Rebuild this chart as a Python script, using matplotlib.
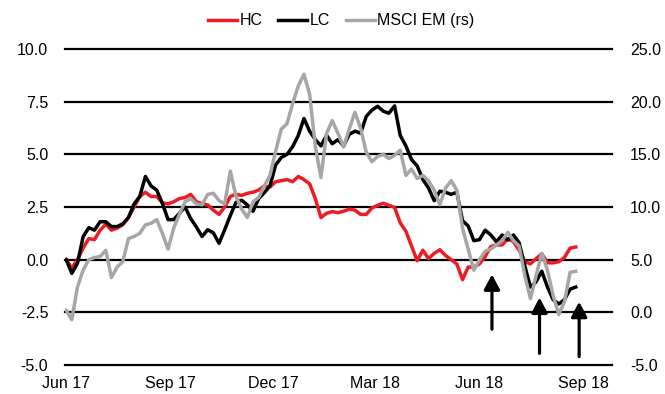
import matplotlib
matplotlib.use("Agg")
import matplotlib.pyplot as plt
import pandas as pd

plt.rcParams['font.family'] = ['Liberation Sans', 'DejaVu Sans']

# 5-day observation dates starting 1 Jun 2017
dates = pd.date_range('2017-06-01', periods=91, freq='5D')

# Hard-currency spread index change (lhs)
hc = [0.0, -0.4, 0.0, 0.55, 1.0, 0.95, 1.4, 1.68, 1.4, 1.5,
      1.65, 2.0, 2.5, 3.0, 3.2, 3.0, 3.0, 2.7, 2.65, 2.75,
      2.9, 2.95, 3.1, 2.75, 2.65, 2.6, 2.35, 2.15, 2.5, 3.0,
      3.1, 3.05, 3.15, 3.2, 3.3, 3.5, 3.45, 3.7, 3.75, 3.8,
      3.7, 3.95, 3.8, 3.6, 2.9, 2.0, 2.2, 2.28, 2.23, 2.3,
      2.4, 2.35, 2.15, 2.15, 2.45, 2.58, 2.68, 2.58, 2.48, 1.75,
      1.35, 0.65, -0.05, 0.45, 0.05, 0.3, 0.47, 0.2, 0.0, -0.2,
      -0.95, -0.35, -0.35, -0.2, 0.15, 0.62, 0.7, 0.7, 1.0, 0.85,
      0.45, -0.1, -0.2, 0.05, 0.28, -0.15, -0.15, -0.1, 0.1, 0.55,
      0.6]

# Local-currency index change (lhs)
lc = [0.0, -0.65, -0.17, 1.09, 1.52, 1.4, 1.8, 1.8, 1.57, 1.57,
      1.7, 2.0, 2.64, 3.0, 3.95, 3.5, 3.3, 2.67, 1.9, 1.9,
      2.2, 2.5, 1.95, 1.55, 1.1, 1.42, 1.27, 0.78, 1.42, 2.1,
      2.72, 2.82, 2.6, 2.3, 2.9, 3.18, 3.5, 4.5, 4.85, 5.0,
      5.36, 5.9, 6.7, 6.1, 5.7, 5.4, 5.9, 5.5, 5.7, 5.4,
      5.95, 6.1, 6.0, 6.8, 7.1, 7.28, 7.05, 6.95, 7.3, 5.9,
      5.4, 4.75, 4.45, 3.8, 3.4, 2.8, 3.25, 3.2, 3.1, 3.2,
      1.85, 1.6, 0.9, 0.95, 1.4, 1.17, 0.85, 1.17, 0.93, 1.17,
      0.8, -0.3, -1.3, -1.05, -0.55, -1.3, -1.9, -2.1, -1.9, -1.4,
      -1.3]

# MSCI EM change (rhs)
msci = [0.2, -0.7, 2.4, 4.0, 5.0, 5.2, 5.3, 5.9, 3.3, 4.3,
        4.8, 7.0, 7.2, 7.5, 8.3, 8.45, 8.8, 7.5, 6.0, 8.0,
        9.3, 10.5, 10.8, 10.3, 10.2, 11.2, 11.3, 10.6, 10.3, 13.4,
        11.0, 9.8, 9.0, 10.5, 10.9, 12.0, 13.0, 15.3, 17.4, 17.9,
        19.8, 21.5, 22.6, 20.7, 15.8, 12.8, 17.0, 18.2, 17.0, 15.7,
        17.4, 19.0, 17.5, 15.2, 14.3, 14.8, 15.0, 14.6, 14.9, 15.4,
        13.0, 13.6, 12.7, 13.0, 12.5, 11.6, 10.2, 11.8, 12.5, 11.6,
        8.0, 6.0, 4.0, 5.0, 5.8, 6.0, 6.4, 6.8, 7.6, 6.8,
        6.3, 3.5, 1.3, 3.5, 5.6, 4.0, 1.6, -0.2, 1.0, 3.8,
        3.9]

tick_dates = pd.to_datetime(['2017-06-01', '2017-09-01', '2017-12-01',
                             '2018-03-01', '2018-06-01', '2018-09-01'])
tick_labels = ['Jun 17', 'Sep 17', 'Dec 17', 'Mar 18', 'Jun 18', 'Sep 18']
left_ticks = [-5.0, -2.5, 0.0, 2.5, 5.0, 7.5, 10.0]
right_ticks = [-5.0, 0.0, 5.0, 10.0, 15.0, 20.0, 25.0]

# Arrows marking events: date, tail level, head level (lhs units)
arrow_dates = pd.to_datetime(['2018-06-12', '2018-07-24', '2018-08-28'])
arrow_tail = [-3.3, -4.45, -4.6]
arrow_head = [-0.7, -1.8, -2.0]

RED = '#ED1C24'
GREY = '#A6A6A6'
FS = 11.5
LW = 2.5

fig = plt.figure(figsize=(6.65, 3.94), dpi=100)
ax = fig.add_axes([65 / 665, 1 - 365 / 394, (612 - 65) / 665, (365 - 49) / 394])
ax2 = ax.twinx()

for v in left_ticks:
    ax.axhline(v, color='black', lw=1.6, zorder=1, clip_on=False)

l1, = ax.plot(dates, hc, color=RED, lw=LW, label='HC', zorder=3)
l2, = ax.plot(dates, lc, color='black', lw=LW, label='LC', zorder=3)
l3, = ax2.plot(dates, msci, color=GREY, lw=LW, label='MSCI EM (rs)', zorder=3)

for d, t, h in zip(arrow_dates, arrow_tail, arrow_head):
    ax.annotate('', xy=(d, h), xytext=(d, t),
                arrowprops=dict(arrowstyle='-|>,head_width=0.4,head_length=0.75',
                                color='black', lw=2.3, mutation_scale=12,
                                shrinkA=0, shrinkB=0),
                zorder=4)

ax.set_xlim(pd.Timestamp('2017-05-31'), pd.Timestamp('2018-09-26'))
ax.set_ylim(-5, 10)
ax2.set_ylim(-5, 25)
ax.set_xticks(tick_dates)
ax.set_xticklabels(tick_labels)
ax.set_yticks(left_ticks)
ax.set_yticklabels([f'{v:.1f}' for v in left_ticks])
ax2.set_yticks(right_ticks)
ax2.set_yticklabels([f'{v:.1f}' for v in right_ticks])

for a in (ax, ax2):
    for s in a.spines.values():
        s.set_visible(False)
    a.tick_params(length=0, labelsize=FS)
ax.tick_params(axis='y', pad=12)
ax2.tick_params(axis='y', pad=13)
ax.tick_params(axis='x', pad=8)
ax.patch.set_visible(False)

fig.legend(handles=[l1, l2, l3], loc='center', bbox_to_anchor=(0.513, 0.947),
           ncol=3, frameon=False, fontsize=FS, handlelength=1.8,
           handletextpad=0.15, columnspacing=1.0, borderaxespad=0)

fig.savefig('out.png', dpi=100)
